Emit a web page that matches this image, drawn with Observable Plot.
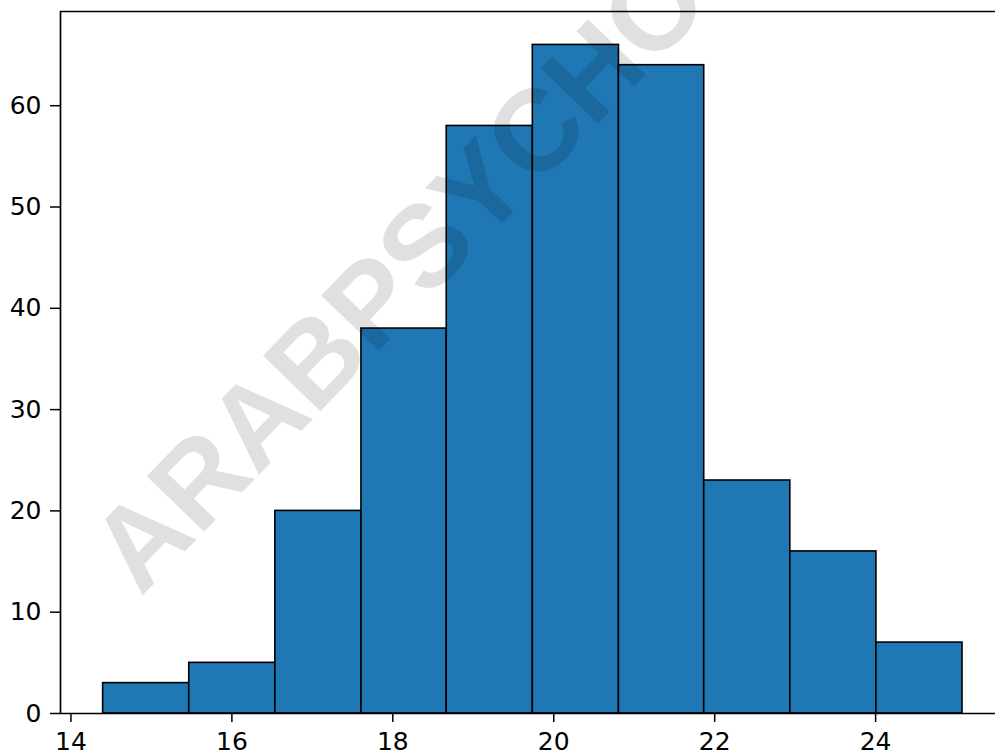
<!DOCTYPE html>
<html>
<head>
<meta charset="utf-8">
<script src="https://cdn.jsdelivr.net/npm/d3@7"></script>
<script src="https://cdn.jsdelivr.net/npm/@observablehq/plot@0.6"></script>
<style>
  html, body { margin: 0; padding: 0; background: #ffffff; }
  #chart { width: 995px; height: 754px; overflow: hidden; }
</style>
</head>
<body>
<div id="chart"></div>
<script>
// Histogram counts per bin and the bin edges (equal-width bins)
const counts = [3, 5, 20, 38, 58, 66, 64, 23, 16, 7];
const binEdges = [14.40, 15.47, 16.54, 17.61, 18.67, 19.74, 20.81, 21.87, 22.94, 24.01, 25.08];

// Axis ticks and view limits
const xTicks = [14, 16, 18, 20, 22, 24];
const yTicks = [0, 10, 20, 30, 40, 50, 60];
const xDomain = [13.87, 25.49];
const yDomain = [0, 69.3];

const watermark = ["ARABPSYCHOLOGY"];

const bins = counts.map((c, i) => ({x1: binEdges[i], x2: binEdges[i + 1], count: c}));

const chart = Plot.plot({
  width: 995,
  height: 754,
  marginLeft: 60,
  marginRight: 0,
  marginTop: 11,
  marginBottom: 41,
  style: {fontFamily: "DejaVu Sans", fontSize: "25px", color: "#000", background: "#fff"},
  x: {domain: xDomain, label: null},
  y: {domain: yDomain, label: null},
  marks: [
    Plot.rectY(bins, {x1: "x1", x2: "x2", y: "count", fill: "#1f77b4", stroke: "#000", strokeWidth: 1.6, inset: 0}),
    // diagonal watermark over the bars
    Plot.text(watermark, {
      text: d => d,
      frameAnchor: "bottom-left",
      dx: 80, dy: -116,
      rotate: -46,
      textAnchor: "start",
      lineAnchor: "bottom",
      fontFamily: "Liberation Sans",
      fontSize: 116,
      fontWeight: "bold",
      fill: "#000",
      fillOpacity: 0.12
    }),
    // spines: left, bottom, top
    Plot.ruleX([xDomain[0]], {stroke: "#000", strokeWidth: 1.7}),
    Plot.ruleY([yDomain[0]], {stroke: "#000", strokeWidth: 1.7}),
    Plot.ruleY([yDomain[1]], {stroke: "#000", strokeWidth: 1.7}),
    Plot.axisX({ticks: xTicks, tickFormat: d => String(d), tickSize: 9, tickPadding: 10, strokeWidth: 1.5, label: null}),
    Plot.axisY({ticks: yTicks, tickFormat: d => String(d), tickSize: 10, tickPadding: 9, strokeWidth: 1.5, label: null})
  ]
});

document.getElementById("chart").appendChild(chart);
</script>
</body>
</html>
